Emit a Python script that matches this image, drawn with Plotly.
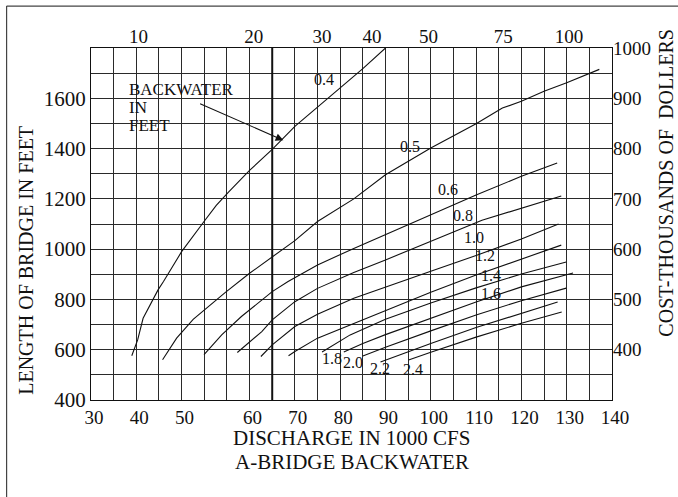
import numpy as np
import plotly.graph_objects as go

# ---------------- data ----------------
# bottom axis: discharge in 1000 cfs
X_LABELS = [30, 40, 50, 60, 70, 80, 90, 100, 110, 120, 130, 140]
# top axis labels and the discharge at which each sits
TOP_LABELS = ["10", "20", "30", "40", "50", "75", "100"]
TOP_Q = [40.5, 60.9, 76, 87, 99.5, 116, 130.5]
# left axis: length of bridge in feet
LEFT_LABELS = [400, 600, 800, 1000, 1200, 1400, 1600]
# right axis: cost, thousands of dollars
RIGHT_LABELS = [400, 500, 600, 700, 800, 900, 1000]

# backwater curves: discharge (1000 cfs) and bridge length (ft)
q04 = [39, 40.3, 41.5, 44.8, 46, 50, 53.3, 55.1, 56.9, 60, 65, 70, 75, 80, 85, 90]
L04 = [576, 639, 725, 838, 871, 990, 1110, 1174, 1227, 1313, 1397, 1488, 1565, 1641, 1718, 1800]
q05 = [45.8, 48.9, 51.7, 56.4, 60, 65, 70, 75, 83, 90, 100, 110, 115.8, 120, 125, 130, 137.2]
L05 = [560, 646, 721, 827, 904, 970, 1034, 1110, 1200, 1296, 1402, 1499, 1561, 1588, 1628, 1662, 1715]
q06 = [53.3, 55.9, 58.8, 65, 68.5, 75, 83, 90, 95, 100, 110, 120, 127.9]
L06 = [580, 659, 732, 831, 871, 937, 1003, 1058, 1097, 1137, 1215, 1290, 1343]
q08 = [58.2, 62.7, 65, 70, 75, 83, 90, 100, 111.3, 128.8]
L08 = [589, 672, 719, 791, 844, 907, 957, 1030, 1115, 1211]
q10 = [62.5, 65, 70, 75, 83, 90, 100, 110, 120, 128.2]
L10 = [573, 619, 692, 741, 805, 850, 912, 975, 1040, 1100]
q12 = [68.6, 70, 75, 83, 90, 100, 110, 120, 128.8]
L12 = [576, 593, 646, 705, 757, 829, 897, 961, 1016]
q14 = [76, 82.2, 90, 100, 110, 120, 129.9]
L14 = [591, 659, 721, 786, 846, 901, 949]
q18 = [80.8, 85, 90, 100, 110, 120, 131.4]
L18 = [591, 625, 660, 725, 790, 850, 905]
q20 = [85, 90, 100, 110, 120, 129.9]
L20 = [575, 610, 675, 738, 795, 845]
q22 = [88.9, 95, 100, 110, 120, 128]
L22 = [551, 592, 625, 688, 743, 790]
q24 = [95.1, 100, 110, 120, 128.9]
L24 = [559, 590, 650, 705, 750]

CURVES = [("0.4", q04, L04), ("0.5", q05, L05), ("0.6", q06, L06), ("0.8", q08, L08),
          ("1.0", q10, L10), ("1.2", q12, L12), ("1.4", q14, L14), ("1.8", q18, L18),
          ("2.0", q20, L20), ("2.2", q22, L22), ("2.4", q24, L24)]

# curve labels (text) and where they are written
LABEL_TEXT = ["0.4", "0.5", "0.6", "0.8", "1.0", "1.2", "1.4", "1.6", "1.8", "2.0", "2.2", "2.4"]
LABEL_Q = [76.5, 95.5, 103.9, 107.2, 109.6, 112.0, 113.2, 113.2, 78.3, 82.9, 88.9, 96.0]
LABEL_L = [1673, 1410, 1239, 1132, 1048, 973, 897, 825, 567, 551, 527, 523]

REF_Q = 65  # heavy vertical line

# ---------------- chart's non-uniform discharge grid ----------------
X_GRID_COL = [0, 2, 4, 7, 9, 11, 13, 15, 17, 19, 21, 23]
N_COLS = 23


def to_col(q):
    return np.interp(q, X_LABELS, X_GRID_COL)


FONT = "Liberation Serif, Times New Roman, serif"
INK = "#111111"
GRID = "#2a2a2a"

fig = go.Figure()

for name, q, L in CURVES:
    fig.add_trace(go.Scatter(x=to_col(q), y=L, mode="lines", name=name,
                             line=dict(color=INK, width=1.1), showlegend=False,
                             hoverinfo="skip"))

# helper traces so that the secondary axes exist
fig.add_trace(go.Scatter(x=[to_col(X_LABELS[0])], y=[LEFT_LABELS[0]], xaxis="x2", mode="markers",
                         marker=dict(opacity=0), showlegend=False, hoverinfo="skip"))
fig.add_trace(go.Scatter(x=[to_col(X_LABELS[0])], y=[RIGHT_LABELS[0]], yaxis="y2", mode="markers",
                         marker=dict(opacity=0), showlegend=False, hoverinfo="skip"))

col_vals = list(range(N_COLS + 1))
col_text = [""] * len(col_vals)
for v, c in zip(X_LABELS, X_GRID_COL):
    col_text[c] = str(v)

ymin, ymax = 400, 1800
y_vals = list(range(ymin, ymax + 1, 100))
y_text = [str(v) if v in LEFT_LABELS else "" for v in y_vals]


def tf(size):
    return dict(family=FONT, size=size, color=INK)


fig.update_layout(
    width=678, height=497,
    margin=dict(l=91, r=66, t=48, b=97, autoexpand=False),
    paper_bgcolor="white", plot_bgcolor="white",
    xaxis=dict(range=[0, N_COLS], tickmode="array", tickvals=col_vals, ticktext=col_text,
               showgrid=True, gridcolor=GRID, gridwidth=1, zeroline=False,
               showline=True, linecolor=INK, linewidth=1, mirror=True, automargin=False,
               ticks="", tickfont=tf(19), ticklabelshift=3),
    xaxis2=dict(range=[0, N_COLS], overlaying="x", side="top", tickmode="array",
                tickvals=list(to_col(TOP_Q)), ticktext=TOP_LABELS, showgrid=False,
                zeroline=False, showline=False, ticks="", tickfont=tf(19), automargin=False),
    yaxis=dict(range=[ymin, ymax], tickmode="array", tickvals=y_vals, ticktext=y_text,
               showgrid=True, gridcolor=GRID, gridwidth=1, zeroline=False,
               showline=True, linecolor=INK, linewidth=1, mirror=True, automargin=False,
               ticks="", tickfont=tf(21)),
    yaxis2=dict(range=[ymin / 2 + 100, ymax / 2 + 100], overlaying="y", side="right",
                tickmode="array", tickvals=RIGHT_LABELS, ticktext=[str(v) for v in RIGHT_LABELS],
                showgrid=False, zeroline=False, showline=False, ticks="", tickfont=tf(19),
                automargin=False),
    showlegend=False,
)

# heavy vertical reference line
fig.add_shape(type="line", xref="x", yref="y", x0=to_col(REF_Q), x1=to_col(REF_Q),
              y0=ymin, y1=ymax, line=dict(color=INK, width=2), layer="above")

# outer frame of the page (top and left edges fall inside the picture)
fig.add_shape(type="line", xref="paper", yref="paper", x0=-0.162, x1=1.2, y0=1.119, y1=1.119,
              line=dict(color="#444444", width=1.2), layer="above")
fig.add_shape(type="line", xref="paper", yref="paper", x0=-0.162, x1=-0.162, y0=-0.4, y1=1.119,
              line=dict(color="#444444", width=1.2), layer="above")

annotations = []
for t, q, L in zip(LABEL_TEXT, LABEL_Q, LABEL_L):
    annotations.append(dict(x=float(to_col(q)), y=L, xref="x", yref="y", text=t, showarrow=False,
                            font=tf(16)))

# BACKWATER IN FEET note + arrow
for i, t in enumerate(["BACKWATER", "IN", "FEET"]):
    annotations.append(dict(x=float(to_col(38.0)), y=1636 - i * 72, xref="x", yref="y", text=t,
                            showarrow=False, xanchor="left", yanchor="middle", font=tf(17)))
annotations.append(dict(x=float(to_col(67.45)), y=1433, ax=float(to_col(52.5)), ay=1581,
                        xref="x", yref="y", axref="x", ayref="y", text="", showarrow=True,
                        arrowhead=2, arrowsize=1.4, arrowwidth=1.1, arrowcolor=INK))

# axis titles
title_common = dict(xref="paper", yref="paper", showarrow=False, xanchor="center",
                    yanchor="middle")
annotations += [
    dict(x=-0.125, y=0.398, text="LENGTH OF BRIDGE IN FEET", textangle=-90, font=tf(20),
         **title_common),
    dict(x=1.104, y=0.618, text="COST-THOUSANDS OF&nbsp; DOLLERS", textangle=-90, font=tf(20),
         **title_common),
    dict(x=0.5, y=-0.108, text="DISCHARGE IN 1000 CFS", font=tf(21), **title_common),
    dict(x=0.5, y=-0.176, text="A-BRIDGE BACKWATER", font=tf(21), **title_common),
]
fig.update_layout(annotations=annotations)

# the page opens with the browser's default 8px body margin; remove it so the
# figure sits exactly in the 678x497 window
fig.write_html("out.html", config={"displayModeBar": False},
               post_script="document.body.style.margin='0px';")
